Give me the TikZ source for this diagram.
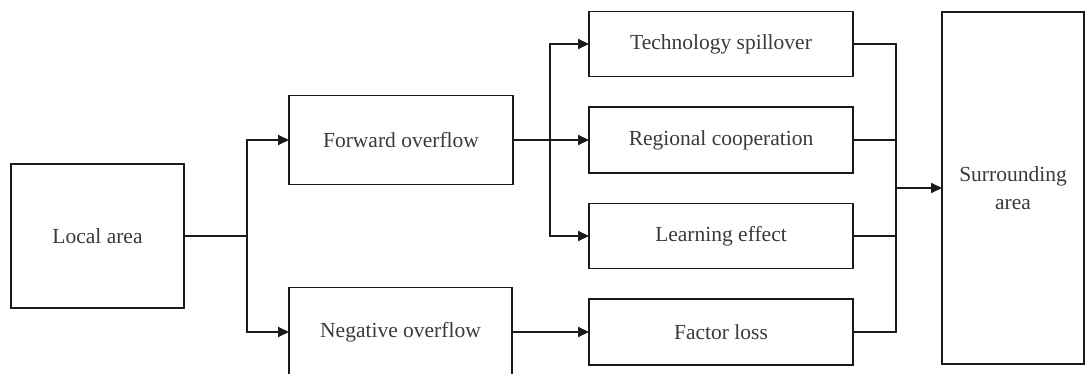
\documentclass[tikz,border=0pt]{standalone}
\usepackage{fontspec}
\setmainfont{Liberation Serif}
\usetikzlibrary{arrows.meta}
\definecolor{txt}{HTML}{3A3A3A}
\definecolor{ln}{HTML}{1A1A1A}
\begin{document}
\begin{tikzpicture}[x=1pt,y=-1pt,
  box/.style={draw=ln,line width=1.8pt,inner sep=0pt,outer sep=0pt,
    text=txt,font=\fontsize{21.5}{28}\selectfont,align=center},
  conn/.style={draw=ln,line width=1.8pt},
  arr/.style={conn,-{Triangle[length=11pt,width=10pt]}}]
\useasboundingbox (0,0) rectangle (1088,374);
\node[box,minimum width=173pt,minimum height=144pt] (local) at (97.5,236) {Local area};
\node[box,minimum width=224pt,minimum height=89pt] (fwd) at (401,140) {Forward overflow};
\node[box,minimum width=223pt,minimum height=89pt] (neg) at (400.5,332) {Negative overflow};
\node[box,minimum width=264pt,minimum height=65pt] (tech) at (721,44) {Technology spillover};
\node[box,minimum width=264pt,minimum height=66pt] (reg) at (721,140) {Regional cooperation};
\node[box,minimum width=264pt,minimum height=65pt] (learn) at (721,236) {Learning effect};
\node[box,minimum width=264pt,minimum height=66pt] (fac) at (721,332) {Factor loss};
\node[box,minimum width=142pt,minimum height=352pt] (sur) at (1013,188) {Surrounding\\area};
\coordinate (b1) at (247,236);
\coordinate (b2) at (550,140);
\coordinate (b3) at (896,188);
\draw[conn] (local.east) -- (b1);
\draw[arr] (b1) |- (fwd.west);
\draw[arr] (b1) |- (neg.west);
\draw[arr] (fwd.east) -- (reg.west);
\draw[arr] (b2) |- (tech.west);
\draw[arr] (b2) |- (learn.west);
\draw[arr] (neg.east) -- (fac.west);
\draw[conn] (tech.east) -| (b3);
\draw[conn] (fac.east) -| (b3);
\draw[conn] (reg.east) -- (reg.east -| b3);
\draw[conn] (learn.east) -- (learn.east -| b3);
\draw[arr] (b3) -- (sur.west);
\end{tikzpicture}
\end{document}
